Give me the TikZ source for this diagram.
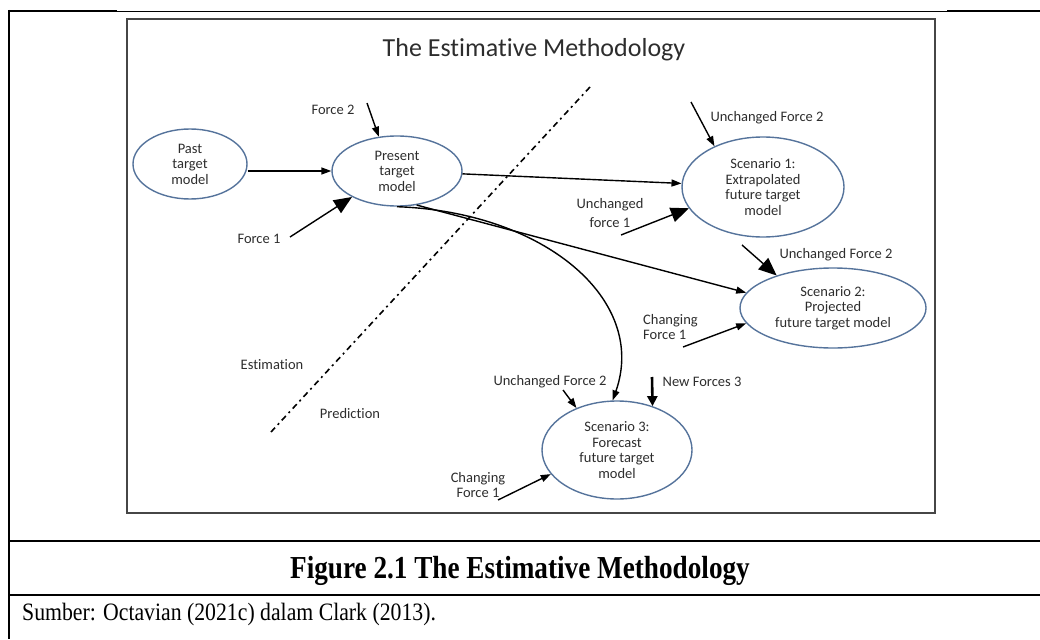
\documentclass[tikz,border=0pt]{standalone}
\usepackage{fontspec}
\usepackage{graphicx}
\setmainfont{Liberation Serif}
\newfontfamily\calibri[Ligatures=NoCommon]{Carlito}
\usetikzlibrary{arrows.meta,shapes.geometric}
\definecolor{rim}{RGB}{85,115,155}
\definecolor{ink}{RGB}{45,45,45}
\definecolor{frame}{RGB}{70,70,70}

\begin{document}
\begin{tikzpicture}[x=1pt,y=-1pt,>={Triangle[length=10pt,width=7pt]},
  model/.style={draw=rim,line width=1.4pt,ellipse,inner sep=0pt,align=center,text=ink,font=\calibri\fontsize{14.5}{15.5}\selectfont},
  tag/.style={text=ink,align=center,inner sep=0pt,font=\calibri\fontsize{14.5}{15.5}\selectfont},
  push/.style={->,line width=1.4pt},
  bigpush/.style={-{Triangle[length=18pt,width=15pt]},line width=1.4pt},
  newpush/.style={-{Triangle[length=10pt,width=10pt]},line width=2.6pt}]
  \useasboundingbox (0,0) rectangle (1040,639);

  \draw[line width=2pt] (9,11) -- (117,11) (947,11) -- (1040,11);
  \draw[line width=0.9pt] (117,11) -- (947,11);
  \draw[line width=2pt] (9,10) -- (9,639);
  \draw[line width=2pt] (9,541) -- (1040,541) (9,595) -- (1040,595);
  \draw[frame,line width=2pt] (127,19) rectangle (935,513);

  \node[text=ink,font=\calibri\fontsize{26}{30}\selectfont] (title) at (534,50) {The Estimative Methodology};

  \draw[line width=1.6pt,dash pattern=on 6pt off 4pt on 2pt off 4pt] (590,87) -- (271,432);

  \node[model,minimum width=114pt,minimum height=70pt]  (past)    at (190,164) {Past\\target\\model};
  \node[model,minimum width=130pt,minimum height=70pt]  (present) at (397,171) {Present\\target\\model};
  \node[model,minimum width=162pt,minimum height=100pt] (scen1)   at (763,187) {Scenario 1:\\Extrapolated\\future target\\model};
  \node[model,minimum width=186pt,minimum height=80pt]  (scen2)   at (833,308) {Scenario 2:\\Projected\\future target model};
  \node[model,minimum width=150pt,minimum height=98pt]  (scen3)   at (617,450) {Scenario 3:\\Forecast\\future target\\model};

  \node[tag] (f2)   at (333,110) {Force 2};
  \node[tag] (f1)   at (259,239) {Force 1};
  \node[tag] (u2a)  at (767,118) {Unchanged Force 2};
  \node[tag] (u1a)  at (610,213) {Unchanged\\[3pt]force 1};
  \node[tag] (u2b)  at (836,255) {Unchanged Force 2};
  \node[tag,align=left,anchor=west] (c1b) at (643,327) {Changing\\Force 1};
  \node[tag] (u2c)  at (550,382) {Unchanged Force 2};
  \node[tag] (c1c)  at (478,485) {Changing\\Force 1};
  \node[tag] (nf3)  at (702,382) {New Forces 3};
  \node[tag] (est)  at (272,365) {Estimation};
  \node[tag] (pred) at (350,414) {Prediction};

  \coordinate (f2s)  at (367,103);
  \coordinate (f1s)  at (290,237);
  \coordinate (u2as) at (691,102);
  \coordinate (u1as) at (621,235);
  \coordinate (u2bs) at (742,245);
  \coordinate (c1bs) at (683,347);
  \coordinate (u2cs) at (563,390);
  \coordinate (c1cs) at (498,500);
  \coordinate (nf3s) at (652,377);

  \draw[push] (past.east |- present.west) -- (present.west);
  \draw[push] (present) -- (scen1);
  \draw[push] (present.-60) -- (scen2.170);
  \draw[push] (present.-90) .. controls (545,212) and (648,300) .. (scen3.95);

  \draw[push]    (f2s)  -- (present.118);
  \draw[bigpush] (f1s)  -- (present.210);
  \draw[push]    (u2as) -- (scen1.140);
  \draw[bigpush] (u1as) -- (scen1.196);
  \draw[bigpush] (u2bs) -- (scen2.150);
  \draw[push]    (c1bs) -- (scen2.190);
  \draw[push]    (u2cs) -- (scen3.134);
  \draw[push]    (c1cs) -- (scen3.200);
  \draw[newpush] (nf3s) -- (scen3.51);

  \node[anchor=base] (cap) at (520,578) {\scalebox{0.85}[1]{\fontsize{32}{36}\selectfont\bfseries Figure 2.1 The Estimative Methodology}};
  \node[anchor=base west,inner sep=0pt] (src) at (22,620) {\scalebox{0.87}[1]{\fontsize{25}{28}\selectfont Sumber: Octavian (2021c) dalam Clark (2013).}};
\end{tikzpicture}
\end{document}
